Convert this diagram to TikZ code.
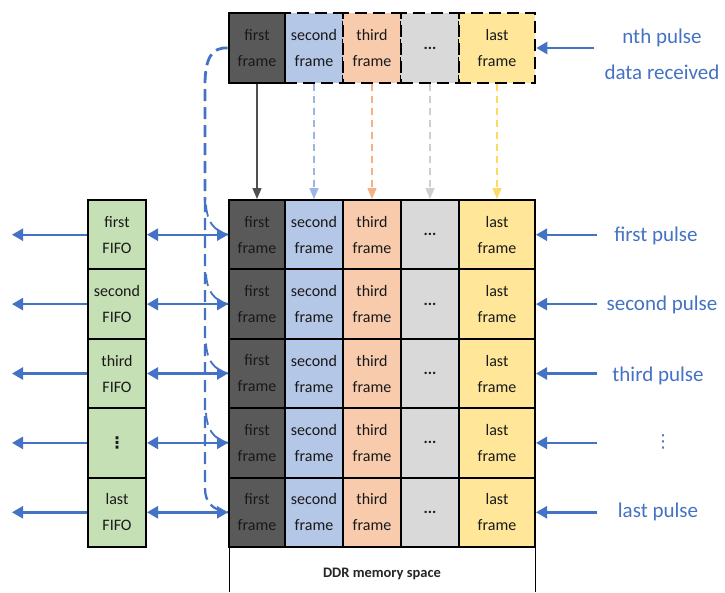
\documentclass[tikz,border=0pt]{standalone}
\usepackage{fontspec}
\setmainfont{Carlito}
\newfontfamily\dejavu{DejaVu Sans}
\usetikzlibrary{arrows.meta}
\definecolor{darkcell}{HTML}{595959}
\definecolor{bluecell}{HTML}{B4C7E7}
\definecolor{orangecell}{HTML}{F8CBAD}
\definecolor{graycell}{HTML}{D9D9D9}
\definecolor{yellowcell}{HTML}{FFE699}
\definecolor{greencell}{HTML}{C5E0B4}
\definecolor{arrowblue}{HTML}{4472C4}
\definecolor{blueline}{HTML}{9DB6E3}
\definecolor{orangeline}{HTML}{F4B183}
\definecolor{grayline}{HTML}{CFCFCF}
\definecolor{yellowline}{HTML}{FFD966}
\definecolor{darkline}{HTML}{505050}
\tikzset{
  cell/.style={draw=black, line width=2pt, minimum height=69.4pt, inner sep=0pt,
    align=center, font=\fontsize{16}{26}\selectfont, text=black!90},
  topcell/.style={cell, minimum height=70pt, line width=2.6pt, dash pattern=on 12pt off 6pt},
  fifo/.style={cell, fill=greencell, minimum width=58pt},
  barrow/.style={draw=arrowblue, line width=2.4pt, -{Triangle[length=11pt,width=12pt]}},
  darrow/.style={draw=arrowblue, line width=2.4pt, {Triangle[length=11pt,width=12pt]}-{Triangle[length=11pt,width=12pt]}},
  varrow/.style={line width=1.3pt, -{Triangle[length=11pt,width=9pt]}},
  dcurve/.style={draw=arrowblue, line width=2.3pt, dash pattern=on 12pt off 6pt},
  plabel/.style={text=arrowblue, font=\fontsize{21}{36}\selectfont, align=center, inner sep=0pt},
}
\begin{document}
\begin{tikzpicture}[x=1pt,y=-1pt]
\useasboundingbox[fill=white] (0,0) rectangle (725,592);
% ---- top row (nth pulse data received)
\node[topcell, fill=bluecell, minimum width=58pt] (t2) at (314,48) {second\\frame};
\node[topcell, fill=orangecell, minimum width=58pt] (t3) at (372,48) {third\\frame};
\node[topcell, fill=graycell, minimum width=58pt] (t4) at (430,48) {\textbf{...}};
\node[topcell, fill=yellowcell, minimum width=76pt] (t5) at (497,48) {last\\frame};
\node[cell, fill=darkcell, minimum width=56pt, minimum height=70pt, line width=2.6pt] (t1) at (257,48) {first\\frame};
% ---- memory grid
\foreach \r/\y in {1/234.7,2/304.1,3/373.5,4/442.9,5/512.3}{
  \node[cell, fill=darkcell, minimum width=56pt] (m\r1) at (257,\y) {first\\frame};
  \node[cell, fill=bluecell, minimum width=58pt] (m\r2) at (314,\y) {second\\frame};
  \node[cell, fill=orangecell, minimum width=58pt] (m\r3) at (372,\y) {third\\frame};
  \node[cell, fill=graycell, minimum width=58pt] (m\r4) at (430,\y) {\textbf{...}};
  \node[cell, fill=yellowcell, minimum width=76pt] (m\r5) at (497,\y) {last\\frame};
}
% DDR memory space
\draw[line width=1pt] (229,547) -- (229,592);
\draw[line width=1pt] (535,547) -- (535,592);
\node[font=\bfseries\fontsize{14.5}{16}\selectfont, text=black!85] (ddr) at (382,574) {DDR memory space};
% ---- FIFOs
\node[fifo] (f1) at (117,234.7) {first\\FIFO};
\node[fifo] (f2) at (117,304.1) {second\\FIFO};
\node[fifo] (f3) at (117,373.5) {third\\FIFO};
\node[fifo, font=\dejavu\bfseries\fontsize{16}{20}\selectfont] (f4) at (117,442.9) {⋮};
\node[fifo] (f5) at (117,512.3) {last\\FIFO};
% ---- vertical arrows
\draw[varrow, draw=darkline, fill=darkline] (t1.south) -- (m11.north);
\draw[varrow, draw=blueline, fill=blueline, dash pattern=on 7pt off 5pt] (t2.south) -- (m12.north);
\draw[varrow, draw=orangeline, fill=orangeline, dash pattern=on 7pt off 5pt] (t3.south) -- (m13.north);
\draw[varrow, draw=grayline, fill=grayline, dash pattern=on 7pt off 5pt] (t4.south) -- (m14.north);
\draw[varrow, draw=yellowline, fill=yellowline, dash pattern=on 7pt off 5pt] (t5.south) -- (m15.north);
% ---- left & double arrows, right arrows and labels
\foreach \r/\y in {1/234.7,2/304.1,3/373.5,4/442.9,5/512.3}{
  \coordinate (l\r) at (12,\y);
  \draw[barrow] (f\r.west) -- (l\r);
  \draw[darrow] (f\r.east) -- (m\r1.west);
  \coordinate (r\r) at (597,\y);
  \draw[barrow] (r\r) -- (m\r5.east);
}
\node[plabel] (p1) at (656,236) {first pulse};
\node[plabel] (p2) at (662,305) {second pulse};
\node[plabel] (p3) at (658,376) {third pulse};
\node[plabel, font=\dejavu\fontsize{18}{20}\selectfont] (p4) at (663,442) {⋮};
\node[plabel] (p5) at (658,512) {last pulse};
\coordinate (rt) at (594,48);
\draw[barrow] (rt) -- (t5.east);
\node[plabel] (pt) at (662,54) {nth pulse\\data received};
% ---- dashed blue curve from top first frame to each row
\coordinate (k0) at (205,85);
\coordinate (k5) at (205,488);
\draw[dcurve, line width=2.8pt] (t1.west) .. controls (212,47) and (205,58) .. (k0) -- (205,200);
\draw[dcurve] (205,200) -- (k5)
  .. controls (205,502) and (212,510) .. (m51.west);
\foreach \r/\y in {1/234.7,2/304.1,3/373.5,4/442.9}{
  \coordinate (k\r) at (206,\y-30);
  \draw[dcurve, line width=1.8pt] (k\r) .. controls (207,\y-14) and (213,\y-4) .. (m\r1.west);
}
\end{tikzpicture}
\end{document}
